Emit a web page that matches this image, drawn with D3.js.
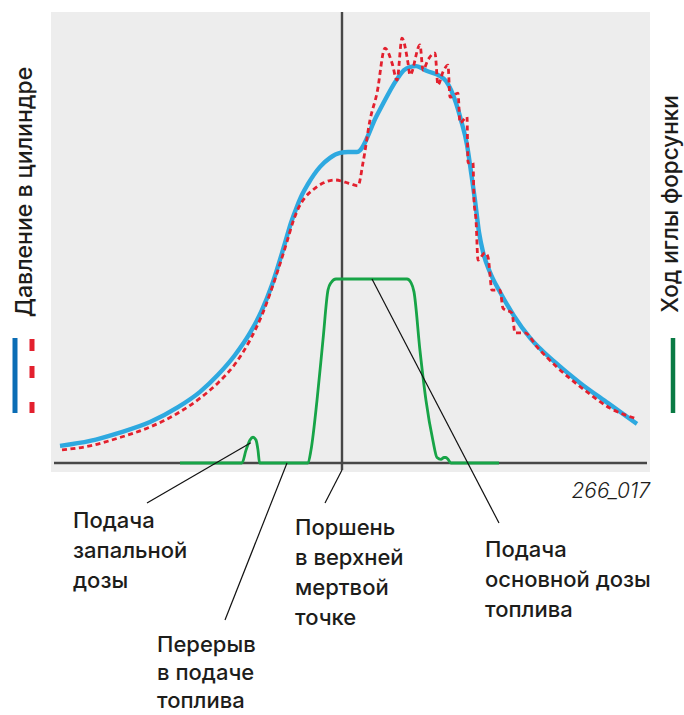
<!DOCTYPE html>
<html>
<head>
<meta charset="utf-8">
<script src="https://cdn.jsdelivr.net/npm/d3@7/dist/d3.min.js"></script>
<style>
  body { margin: 0; background: #fff; }
  text { font-family: Inter, "Open Sans", sans-serif; fill: #1d1d1b; }
</style>
</head>
<body>
<svg id="chart" width="684" height="715"></svg>
<script>
// crank angle (deg, TDC = 0) vs cylinder pressure (relative units)
let pressureSmooth = [
    [-70.5, 3.8], [-63, 4.9], [-55.75, 6.7], [-48, 9.1], [-41, 12.4], [-35.5, 15.8],
    [-31, 19.6], [-26.75, 24.0], [-23, 28.9], [-20, 34.0], [-17.5, 39.6], [-14.25, 48.9],
    [-12.75, 53.4], [-11.25, 57.0], [-10, 59.6], [-8.5, 62.0], [-5.5, 65.8], [-3, 67.8],
    [-0.5, 68.9], [1.5, 69.1], [3.75, 69.1], [8.75, 77.3], [13.75, 85.3], [15.5, 87.3],
    [17, 88.0], [18.5, 88.2], [21.25, 87.1], [24.5, 86.0], [26, 84.9], [27.25, 82.9],
    [28.5, 80.0], [29.75, 76.2], [31.25, 70.7], [32.25, 64.7], [33.25, 58.4], [34.25, 51.3],
    [35.25, 46.9], [37, 42.4], [39.5, 38.0], [43, 32.7], [47, 27.8], [53.25, 22.4],
    [59.5, 17.8], [66.5, 13.3], [73.75, 8.7]
];

let pressureKnock = [
    [-70, 2.9], [-63, 3.8], [-55.75, 5.6], [-48, 8.0], [-41, 11.1], [-35.5, 14.4],
    [-31, 17.8], [-26.75, 22.0], [-23, 27.3], [-20, 32.9], [-16.25, 42.2], [-13.75, 49.2],
    [-12.25, 53.6], [-10.75, 56.9], [-9.25, 59.0], [-7.25, 60.7], [-4.75, 62.2], [-1.75, 62.9], [0.75, 62.4],
    [2.25, 62.0], [4, 61.6], [5.25, 66.7], [7, 76.2], [8.75, 82.2], [10.75, 92.2],
    [12.5, 88.9], [13.75, 85.1], [15, 94.4], [16.5, 88.9], [17, 86.2], [19.5, 92.9],
    [20.25, 87.3], [21.5, 89.6], [23.25, 91.1], [24, 84.0], [25.25, 86.9], [26.5, 88.4],
    [27, 81.3], [29, 82.2], [29.5, 75.6], [31.25, 76.9], [31.5, 66.7], [32.75, 66.7],
    [33, 58.4], [33.5, 54.0], [34, 45.1], [35.75, 46.7], [36.5, 45.8], [37.5, 38.4],
    [39.5, 38.4], [40.25, 34.4], [42.5, 33.3], [43.25, 28.9], [45.75, 28.9], [48.75, 25.8],
    [53.75, 21.3], [61.25, 15.8], [67, 12.2], [73.75, 9.8]
];

// needle lift (relative, 1 = full lift)
let needleLift = [
    [-40.5, 0], [-25, 0], [-24, 0.07], [-23, 0.125], [-22.25, 0.14], [-21.5, 0.125],
    [-21, 0.07], [-20.6, 0], [-8.5, 0], [-7.75, 0.07], [-6.25, 0.34], [-4.75, 0.67],
    [-3.5, 0.94], [-2.75, 0.98], [-1.5, 1], [16.25, 1], [17.25, 0.98], [18, 0.93],
    [19.5, 0.61], [21, 0.34], [22.75, 0.12], [23.75, 0.03], [24.75, 0.02], [25.5, 0.03],
    [26, 0.03], [26.5, 0.02], [27.25, 0], [39.25, 0]
];

let leftTitle = "Давление в цилиндре";
let rightTitle = "Ход иглы форсунки";
let figureCode = "266_017";

let callouts = [
    {lines: ["Подача", "запальной", "дозы"], at: [-22.8, 0.11]},
    {lines: ["Перерыв", "в подаче", "топлива"], at: [-13.75, 0]},
    {lines: ["Поршень", "в верхней", "мертвой", "точке"], at: [0, -0.04]},
    {lines: ["Подача", "основной дозы", "топлива"], at: [7.5, 1]}
];

let svg = d3.select("#chart");

let x = d3.scaleLinear().domain([-73, 77]).range([50, 650]);
let yP = d3.scaleLinear().domain([0, 100]).range([463, 13]);
let yL = d3.scaleLinear().domain([0, 1]).range([463, 279]);

// panel
svg.append("rect")
    .attr("x", 51).attr("y", 12)
    .attr("width", 599).attr("height", 460)
    .attr("fill", "#ededed");

// baseline and TDC line
svg.append("line")
    .attr("x1", 54).attr("x2", 647)
    .attr("y1", yP(0)).attr("y2", yP(0))
    .attr("stroke", "#474747").attr("stroke-width", 2.6);

svg.append("line")
    .attr("x1", x(0)).attr("x2", x(0))
    .attr("y1", 12).attr("y2", 470)
    .attr("stroke", "#474747").attr("stroke-width", 2.4);

let pLine = d3.line()
    .x(d => x(d[0]))
    .y(d => yP(d[1]))
    .curve(d3.curveMonotoneX);

let lLine = d3.line()
    .x(d => x(d[0]))
    .y(d => yL(d[1]))
    .curve(d3.curveMonotoneX);

svg.append("path")
    .attr("d", pLine(pressureSmooth))
    .attr("fill", "none")
    .attr("stroke", "#2ea9e0")
    .attr("stroke-width", 4.4);

svg.append("path")
    .attr("d", pLine(pressureKnock))
    .attr("fill", "none")
    .attr("stroke", "#e3202e")
    .attr("stroke-width", 2.8)
    .attr("stroke-dasharray", "5,3.5");

svg.append("path")
    .attr("d", lLine(needleLift))
    .attr("fill", "none")
    .attr("stroke", "#17a447")
    .attr("stroke-width", 2.8);

// callouts
let labelPos = [
    {x: 73, y: 528, tip: [147, 503], gap: 30},
    {x: 157, y: 652, tip: [225, 620], gap: 28},
    {x: 295, y: 535, tip: [325, 503], gap: 30},
    {x: 485, y: 557, tip: [499, 523], gap: 30}
];

callouts.forEach((c, i) => {
    let p = labelPos[i];
    let ay = c.at[1] < 0 ? yP(0) + 7 : yL(c.at[1]);
    svg.append("line")
        .attr("x1", x(c.at[0])).attr("y1", ay)
        .attr("x2", p.tip[0]).attr("y2", p.tip[1])
        .attr("stroke", "#111").attr("stroke-width", 1.2);

    let t = svg.append("text")
        .attr("x", p.x).attr("y", p.y)
        .attr("font-size", 22)
        .attr("font-weight", 500);
    t.selectAll("tspan")
        .data(c.lines)
        .enter().append("tspan")
        .attr("x", p.x)
        .attr("dy", (d, j) => j === 0 ? 0 : p.gap)
        .text(d => d);
});

svg.append("text")
    .attr("x", 650).attr("y", 498)
    .attr("text-anchor", "end")
    .attr("font-size", 21)
    .attr("font-style", "italic")
    .attr("font-weight", 300)
    .text(figureCode);

// side titles and legend keys
svg.append("text")
    .attr("transform", "translate(32,192) rotate(-90)")
    .attr("text-anchor", "middle")
    .attr("font-size", 23)
    .attr("font-weight", 500)
    .text(leftTitle);

svg.append("text")
    .attr("transform", "translate(678,204) rotate(-90)")
    .attr("text-anchor", "middle")
    .attr("font-size", 22.5)
    .attr("font-weight", 500)
    .text(rightTitle);

svg.append("line")
    .attr("x1", 15).attr("x2", 15).attr("y1", 338).attr("y2", 413)
    .attr("stroke", "#0b6db5").attr("stroke-width", 5);

svg.append("line")
    .attr("x1", 32).attr("x2", 32).attr("y1", 339).attr("y2", 413)
    .attr("stroke", "#e3202e").attr("stroke-width", 5)
    .attr("stroke-dasharray", "12,15,12,24");

svg.append("line")
    .attr("x1", 673).attr("x2", 673).attr("y1", 338).attr("y2", 413)
    .attr("stroke", "#0a7a44").attr("stroke-width", 4.5);
</script>
</body>
</html>
